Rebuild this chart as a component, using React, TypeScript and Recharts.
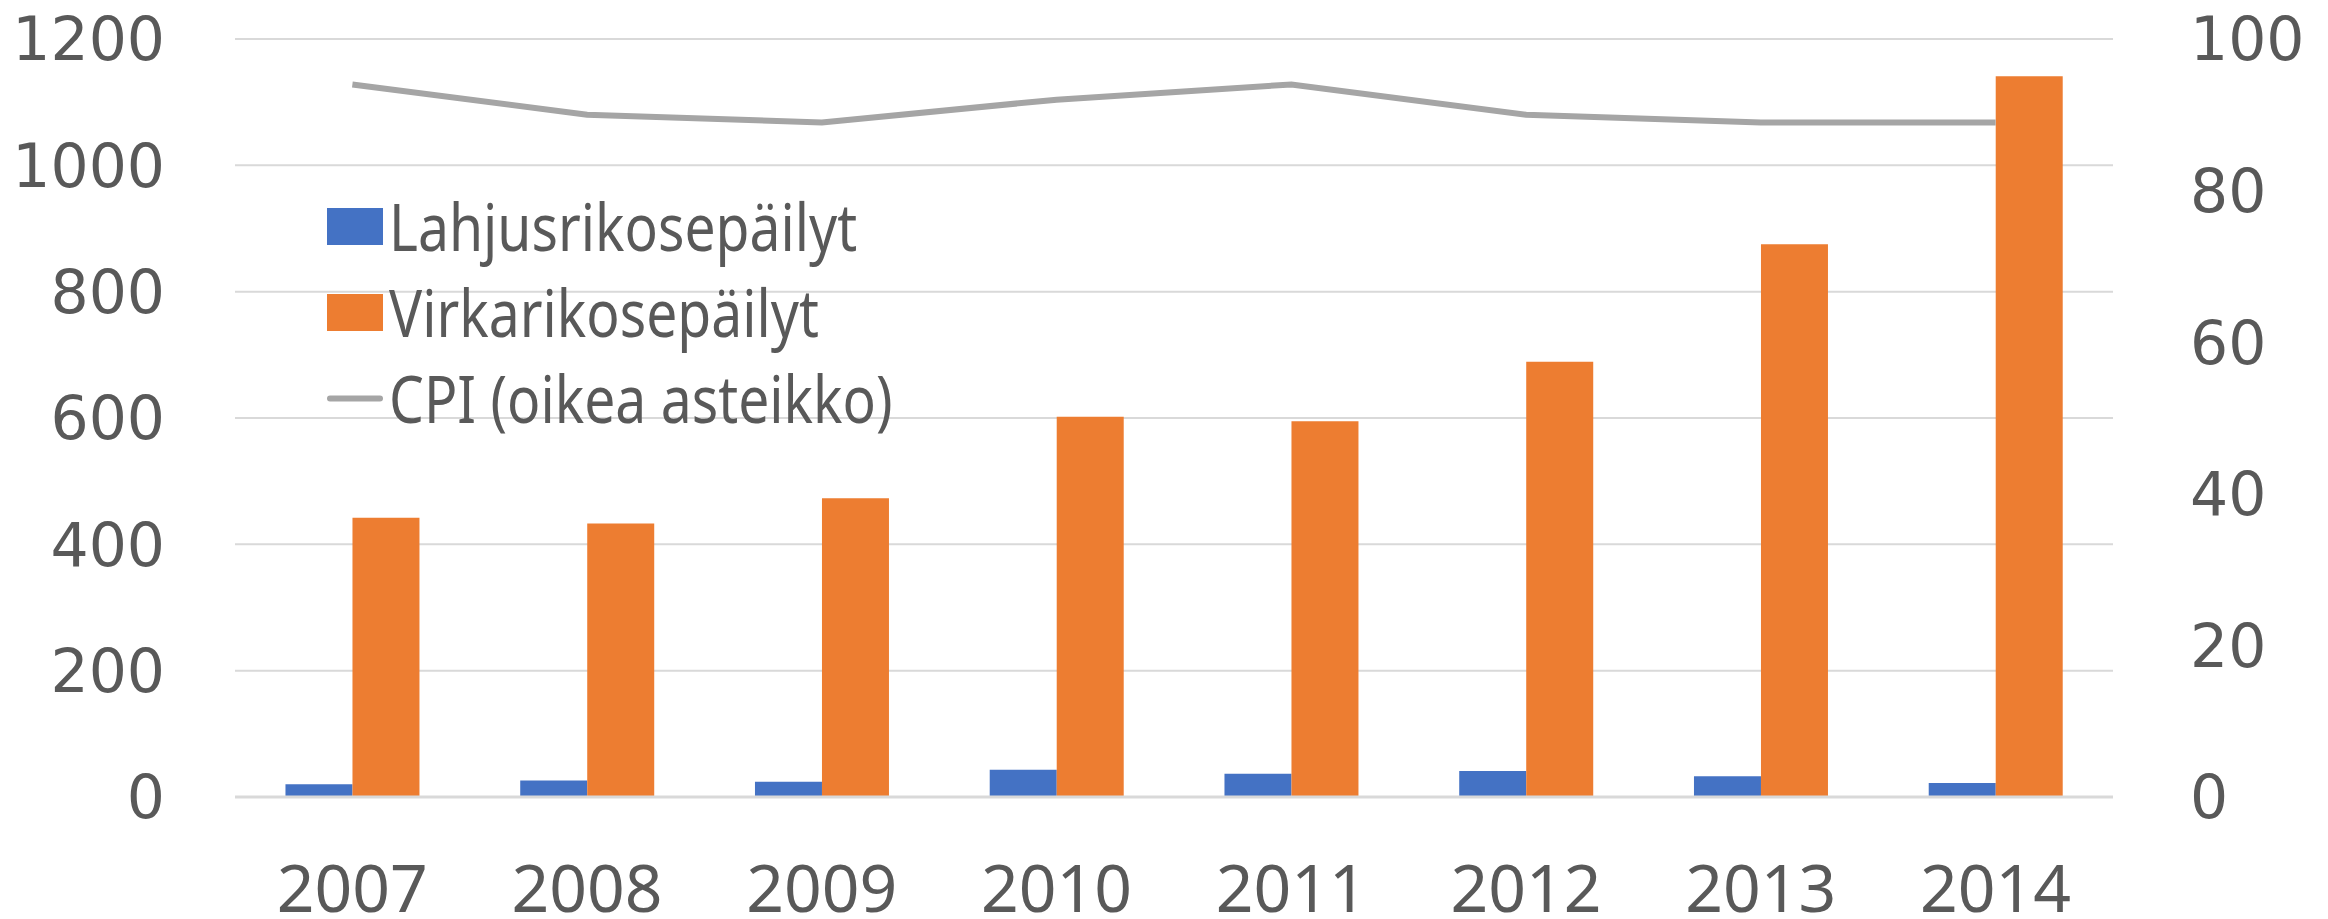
import {
  ComposedChart,
  Bar,
  Line,
  XAxis,
  YAxis,
  CartesianGrid,
  Legend,
} from "recharts";

const years = ["2007", "2008", "2009", "2010", "2011", "2012", "2013", "2014"];
const lahjus = [20, 26, 24, 43, 37, 41, 33, 22];
const virka = [442, 433, 473, 602, 595, 689, 875, 1141];
const cpi = [94, 90, 89, 92, 94, 90, 89, 89];
const leftTicks = [0, 200, 400, 600, 800, 1000, 1200];
const rightTicks = [0, 20, 40, 60, 80, 100];
const seriesNames = ["Lahjusrikosepäilyt", "Virkarikosepäilyt", "CPI (oikea asteikko)"];

const data = years.map((year, i) => ({
  year,
  lahjus: lahjus[i],
  virka: virka[i],
  cpi: cpi[i],
}));

const textColor = "#595959";
const sans = '"Noto Sans", "Open Sans", sans-serif';

function renderLegend(props: any) {
  const payload = [...(props.payload || [])].sort(
    (a: any, b: any) => seriesNames.indexOf(a.value) - seriesNames.indexOf(b.value)
  );
  return (
    <div>
      {payload.map((entry: any) => (
        <div
          key={entry.value}
          style={{ display: "flex", alignItems: "center", height: 86 }}
        >
          {entry.type === "line" ? (
            <svg width={56} height={37}>
              <line
                x1={3}
                y1={18.5}
                x2={53}
                y2={18.5}
                stroke={entry.color}
                strokeWidth={6}
                strokeLinecap="round"
              />
            </svg>
          ) : (
            <div style={{ width: 56, height: 37, background: entry.color }} />
          )}
          <span
            style={{
              display: "inline-block",
              marginLeft: 6,
              fontFamily: sans,
              fontSize: 65,
              lineHeight: 1,
              color: textColor,
              whiteSpace: "nowrap",
              transform: "scaleX(0.85)",
              transformOrigin: "left center",
            }}
          >
            {entry.value}
          </span>
        </div>
      ))}
    </div>
  );
}

export default function App() {
  return (
    <div style={{ position: "absolute", left: 0, top: 0, background: "#fff" }}>
      <ComposedChart
        width={2328}
        height={919}
        data={data}
        margin={{ top: 39, right: 0, bottom: 0, left: 0 }}
        barGap={0}
        barCategoryGap="21.5%"
      >
        <CartesianGrid
          yAxisId="left"
          vertical={false}
          stroke="#D9D9D9"
          strokeWidth={2}
        />
        <XAxis
          dataKey="year"
          height={122}
          interval={0}
          axisLine={{ stroke: "#D9D9D9", strokeWidth: 3 }}
          tickLine={false}
          tickSize={0}
          tickMargin={68}
          tick={{ fill: textColor, fontSize: 66, fontFamily: sans }}
        />
        <YAxis
          yAxisId="left"
          orientation="left"
          width={235}
          domain={[0, 1200]}
          ticks={leftTicks}
          axisLine={false}
          tickLine={false}
          tickSize={0}
          tickMargin={70}
          tick={{ fill: textColor, fontSize: 60, fontFamily: "DejaVu Sans" }}
        />
        <YAxis
          yAxisId="right"
          orientation="right"
          width={215}
          domain={[0, 100]}
          ticks={rightTicks}
          axisLine={false}
          tickLine={false}
          tickSize={0}
          tickMargin={77}
          tick={{
            fill: textColor,
            fontSize: 60,
            fontFamily: "DejaVu Sans",
            textAnchor: "start",
          }}
        />
        <Legend
          layout="vertical"
          align="center"
          verticalAlign="middle"
          content={renderLegend}
          wrapperStyle={{ left: 327, top: 183, width: "auto" }}
        />
        <Bar
          yAxisId="left"
          dataKey="lahjus"
          name="Lahjusrikosepäilyt"
          fill="#4472C4"
          isAnimationActive={false}
        />
        <Bar
          yAxisId="left"
          dataKey="virka"
          name="Virkarikosepäilyt"
          fill="#ED7D31"
          isAnimationActive={false}
        />
        <Line
          yAxisId="right"
          type="linear"
          dataKey="cpi"
          name="CPI (oikea asteikko)"
          stroke="#A5A5A5"
          strokeWidth={6}
          dot={false}
          isAnimationActive={false}
        />
      </ComposedChart>
    </div>
  );
}
